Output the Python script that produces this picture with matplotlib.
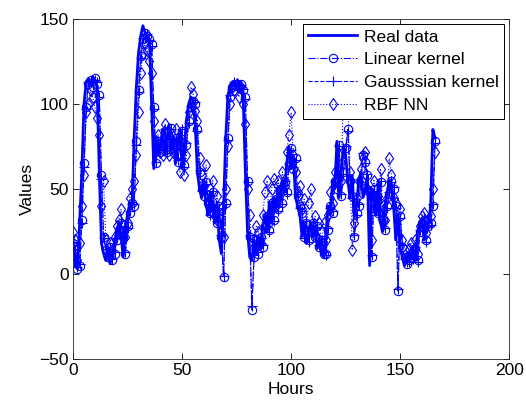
import numpy as np
import matplotlib
matplotlib.use('Agg')
import matplotlib.pyplot as plt

plt.rcParams['font.family'] = ['Liberation Sans', 'DejaVu Sans']

# Hourly values
real = [20, 5, 3, 30, 60, 100, 113, 115, 112, 116, 114, 110, 60, 18, 12, 8, 15, 6, 12, 18,
        25, 30, 22, 10, 28, 35, 42, 40, 80, 110, 130, 140, 146, 142, 140, 138, 100, 62, 80, 70,
        75, 85, 70, 80, 88, 72, 80, 65, 78, 85, 62, 75, 90, 100, 104, 102, 88, 60, 50, 45,
        55, 40, 35, 48, 38, 30, 42, 20, 12, 40, 80, 105, 110, 112, 113, 110, 112, 108, 105, 60,
        25, 10, 8, 20, 12, 22, 15, 28, 35, 25, 42, 30, 45, 38, 50, 42, 55, 48, 65, 75,
        62, 70, 45, 40, 35, 22, 30, 18, 25, 30, 22, 28, 15, 20, 12, 10, 25, 40, 35, 55,
        50, 78, 45, 60, 75, 70, 55, 45, 58, 35, 40, 55, 60, 45, 50, 58, 5, 50, 45, 35,
        55, 30, 25, 40, 48, 55, 50, 40, 20, 35, 15, 10, 5, 8, 12, 10, 15, 8, 25, 30,
        32, 20, 28, 30, 40, 85, 80]

linear = [18, 15, 3, 5, 32, 65, 98, 112, 114, 110, 115, 112, 105, 58, 22, 14, 10, 16, 8, 12,
          20, 26, 30, 22, 12, 28, 36, 42, 40, 78, 108, 128, 138, 142, 140, 138, 135, 98, 65, 78,
          72, 76, 84, 72, 80, 86, 74, 80, 66, 78, 84, 64, 76, 90, 98, 102, 100, 85, 60, 50,
          46, 54, 42, 36, 48, 38, 30, 40, 22, -2, 42, 80, 104, 110, 112, 112, 110, 112, 108, 104,
          55, 22, -21, 10, 20, 12, 22, 16, 28, 34, 26, 42, 32, 44, 38, 50, 42, 54, 48, 64,
          74, 62, 68, 46, 40, 36, 22, 30, 20, 26, 30, 22, 28, 16, 20, 12, 12, 26, 40, 36,
          55, 50, 76, 46, 60, 74, 85, 55, 46, 22, 36, 40, 55, 70, 66, 58, 48, 10, 50, 45,
          36, 54, 32, 26, 40, 47, 55, 50, 40, -10, 34, 16, 10, 6, 8, 12, 10, 15, 8, 25,
          30, 32, 20, 28, 30, 40, 78]

gaussian = [19, 14, 4, 6, 30, 63, 97, 113, 113, 111, 114, 113, 104, 56, 21, 15, 11, 15, 9, 13,
            21, 25, 31, 21, 13, 27, 37, 41, 41, 76, 107, 127, 139, 141, 141, 137, 134, 97, 66, 77,
            73, 75, 85, 71, 81, 85, 75, 79, 67, 77, 85, 63, 77, 89, 99, 101, 101, 84, 61, 49,
            47, 53, 43, 35, 49, 37, 31, 39, 23, -1, 41, 79, 105, 109, 113, 111, 111, 111, 109, 103,
            54, 23, -19, 11, 19, 13, 21, 17, 27, 35, 25, 43, 31, 45, 37, 51, 41, 55, 47, 65,
            73, 63, 67, 47, 39, 37, 21, 31, 19, 27, 29, 23, 27, 17, 19, 13, 11, 27, 39, 37,
            54, 51, 75, 47, 59, 75, 84, 56, 45, 23, 35, 41, 54, 71, 65, 59, 47, 11, 49, 46,
            35, 55, 31, 27, 39, 48, 54, 51, 39, -9, 33, 17, 9, 7, 7, 13, 9, 16, 7, 26,
            29, 33, 19, 29, 29, 41, 77]

rbf = [25, 20, 8, 18, 40, 58, 95, 100, 108, 104, 98, 92, 82, 40, 55, 20, 12, 18, 14, 22,
       28, 32, 38, 25, 22, 30, 45, 50, 55, 70, 95, 118, 130, 136, 132, 125, 118, 90, 78, 82,
       72, 70, 88, 78, 70, 80, 72, 85, 70, 60, 74, 58, 70, 95, 110, 106, 96, 90, 68, 58,
       52, 64, 46, 40, 55, 34, 46, 30, 38, 22, 50, 75, 100, 110, 108, 112, 104, 110, 100, 88,
       50, 35, 14, 20, 28, 25, 18, 35, 48, 55, 30, 50, 56, 40, 55, 48, 60, 52, 72, 82,
       95, 70, 60, 48, 52, 38, 44, 25, 42, 50, 28, 34, 22, 30, 18, 30, 20, 35, 48, 42,
       60, 56, 70, 55, 110, 120, 98, 60, 14, 30, 45, 55, 62, 68, 72, 50, 48, 20, 55, 40,
       46, 62, 40, 32, 45, 68, 58, 45, 42, 22, 38, 20, 14, 10, 15, 18, 14, 20, 12, 28,
       34, 36, 24, 30, 34, 50, 72]

hours = np.arange(len(real))
blue = '#0000ff'

fig = plt.figure(figsize=(5.26, 4.03), dpi=100)
ax = fig.add_axes([0.139, 0.109, 0.829, 0.844])

ax.plot(hours, real, '-', color=blue, lw=2.0, label='Real data')
ax.plot(hours, linear, '-.', color=blue, lw=0.8, marker='o', ms=6, mfc='none',
        mew=0.8, label='Linear kernel')
ax.plot(hours, gaussian, '--', color=blue, lw=0.8, marker='+', ms=7,
        mew=0.8, label='Gausssian kernel')
ax.plot(hours, rbf, ':', color=blue, lw=0.8, marker='d', ms=6, mfc='none',
        mew=0.8, label='RBF NN')

ax.set_xlim(0, 200)
ax.set_ylim(-50, 150)
ax.set_xticks([0, 50, 100, 150, 200])
ax.set_yticks([-50, 0, 50, 100, 150])
ax.tick_params(direction='in', top=True, right=True, labelsize=12.5, length=4, width=0.6, pad=3)
for s in ax.spines.values():
    s.set_linewidth(0.6)
    s.set_color('#262626')

ax.set_xlabel('Hours', fontsize=12.5, labelpad=3)
ax.set_ylabel('Values', fontsize=12.5, labelpad=3)

leg = ax.legend(loc='upper right', fontsize=12.5, fancybox=False, framealpha=1,
                edgecolor='black', borderaxespad=0.3, handlelength=2.8,
                labelspacing=0.45, borderpad=0.3, handletextpad=0.4)
leg.get_frame().set_linewidth(0.7)

fig.savefig('out.png', dpi=100)
